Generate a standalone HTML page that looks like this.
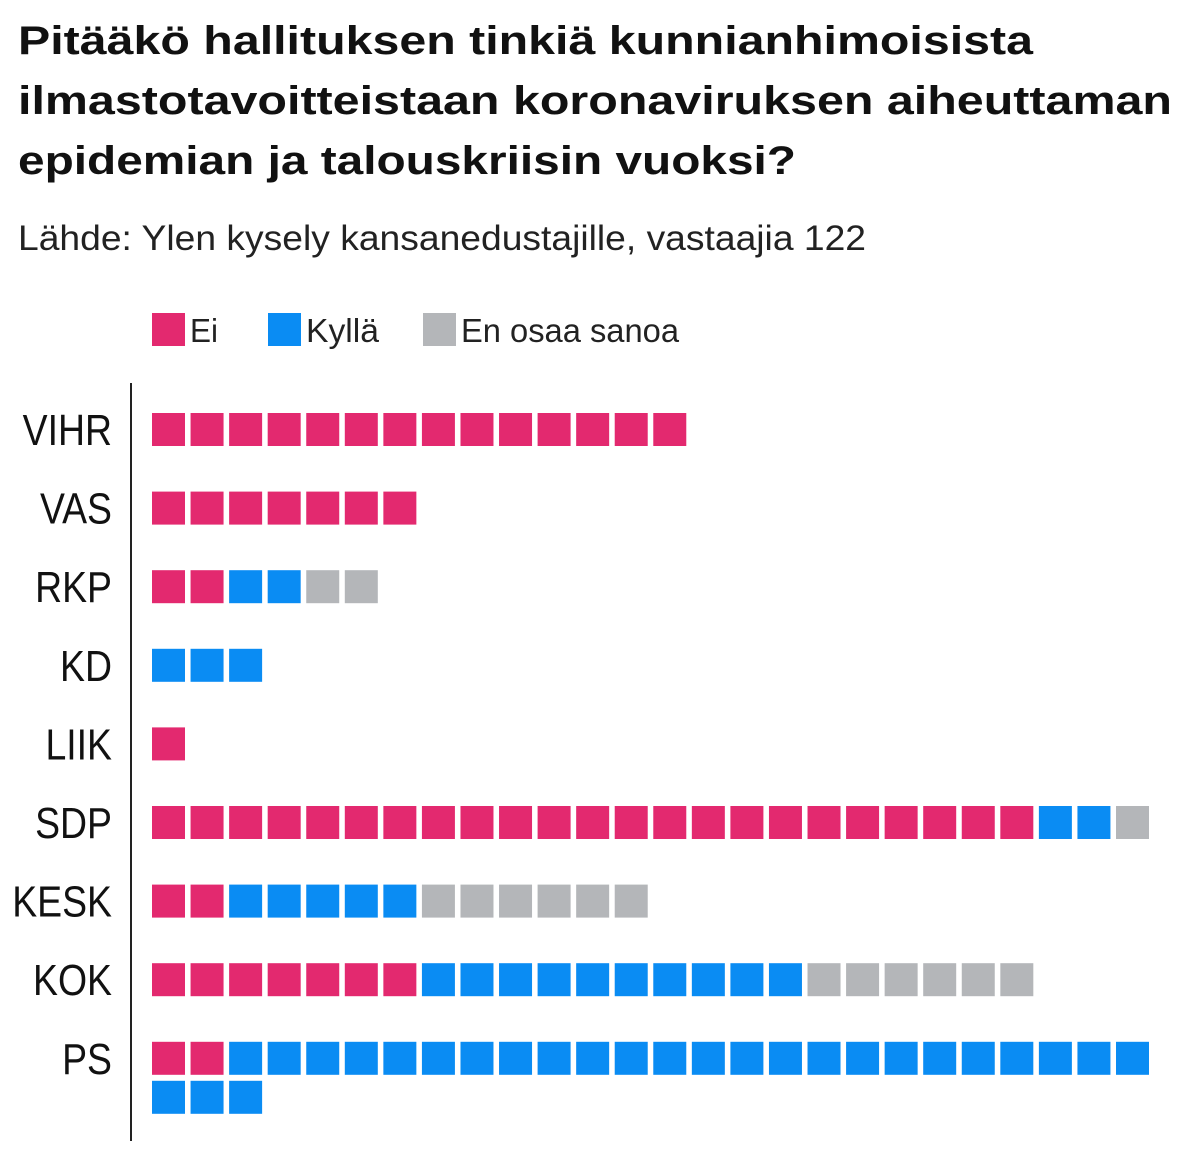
<!DOCTYPE html>
<html><head><meta charset="utf-8"><style>
body{margin:0;background:#fff;width:1199px;height:1162px;overflow:hidden}
svg{display:block;font-family:"Liberation Sans",sans-serif}
</style></head><body>
<svg id="c" width="1199" height="1162">
<text x="18" y="54" font-size="40" font-weight="bold" fill="#111" textLength="1015" lengthAdjust="spacingAndGlyphs">Pitääkö hallituksen tinkiä kunnianhimoisista</text>
<text x="18" y="114" font-size="40" font-weight="bold" fill="#111" textLength="1154" lengthAdjust="spacingAndGlyphs">ilmastotavoitteistaan koronaviruksen aiheuttaman</text>
<text x="18" y="174" font-size="40" font-weight="bold" fill="#111" textLength="778" lengthAdjust="spacingAndGlyphs">epidemian ja talouskriisin vuoksi?</text>
<text x="18" y="250" font-size="35" fill="#222" textLength="848" lengthAdjust="spacingAndGlyphs">Lähde: Ylen kysely kansanedustajille, vastaajia 122</text>
<g>
<rect x="152" y="313" width="33" height="33" fill="#e3296f"/>
<text x="190" y="342" font-size="33" fill="#222" textLength="28" lengthAdjust="spacingAndGlyphs">Ei</text>
<rect x="268" y="313" width="33" height="33" fill="#0a8cf3"/>
<text x="306" y="342" font-size="33" fill="#222" textLength="73" lengthAdjust="spacingAndGlyphs">Kyllä</text>
<rect x="423" y="313" width="33" height="33" fill="#b4b6b9"/>
<text x="461" y="342" font-size="33" fill="#222" textLength="218" lengthAdjust="spacingAndGlyphs">En osaa sanoa</text>
</g>
<line x1="131" y1="383" x2="131" y2="1141" stroke="#222" stroke-width="2"/>
<g id="marks"></g>
</svg>
<script>
const parties = ["VIHR","VAS","RKP","KD","LIIK","SDP","KESK","KOK","PS"];
const ei =    [14,7,2,0,1,23,2,7,2];
const kylla = [0,0,2,3,0,2,5,10,27];
const eos =   [0,0,2,0,0,1,6,6,0];
const colors = ["#e3296f","#0a8cf3","#b4b6b9"];
const x0=152, pitch=38.56, sz=33, rowTop=413, rowStep=78.6, perRow=26, wrapStep=39;
const ns="http://www.w3.org/2000/svg";
const g=document.getElementById("marks");
function xPos(i){return x0+(i%perRow)*pitch;}
function yPos(r,i){return rowTop+r*rowStep+Math.floor(i/perRow)*wrapStep;}
parties.forEach((p,r)=>{
  const t=document.createElementNS(ns,"text");
  
  
  t.setAttribute("x",0);t.setAttribute("y",0);
  t.setAttribute("transform","translate(112,"+(rowTop+r*rowStep+32)+") scale(0.85,1)");
  t.setAttribute("text-anchor","end");t.setAttribute("font-size","44");t.setAttribute("fill","#111");
  t.textContent=p;g.appendChild(t);
  const counts=[ei[r],kylla[r],eos[r]];
  let idx=0;
  counts.forEach((n,k)=>{
    for(let j=0;j<n;j++){
      const rc=document.createElementNS(ns,"rect");
      
      
      rc.setAttribute("x",xPos(idx));rc.setAttribute("y",yPos(r,idx));
      rc.setAttribute("width",sz);rc.setAttribute("height",sz);rc.setAttribute("fill",colors[k]);
      g.appendChild(rc);idx++;
    }
  });
});
</script>
</body></html>
